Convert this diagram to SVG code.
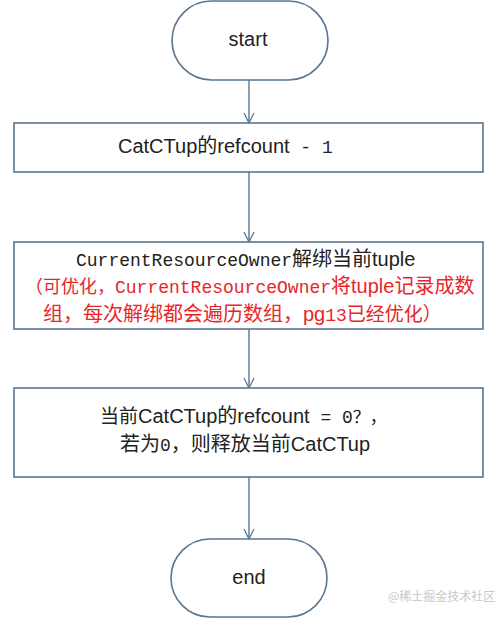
<svg xmlns="http://www.w3.org/2000/svg" width="497" height="619" viewBox="0 0 497 619">
<style>
.shape{fill:#fff;stroke:#5b7590;stroke-width:1.6}
.conn{stroke:#5b7590;stroke-width:1.4;fill:none}
.t{font-family:"Liberation Sans","Noto Sans CJK SC",sans-serif;font-size:20px;fill:#222}
.m{font-family:"Liberation Mono","Noto Sans CJK SC",monospace;font-size:18px}
.c{font-family:"Noto Sans CJK SC",sans-serif;font-size:20px}
.c18{font-size:18px}
.c19{font-size:19px}
.c17{font-size:17px}
.r{fill:#e8262a}
.wm{font-family:"Noto Sans CJK SC",sans-serif;font-size:12px;fill:#c8c8c8}
</style>
<defs>
<marker id="arr" viewBox="0 0 12 12" refX="11" refY="6" markerWidth="12" markerHeight="12" markerUnits="userSpaceOnUse" orient="auto">
<path d="M1,1 L11,6 L1,11" fill="none" stroke="#5b7590" stroke-width="1.3"/>
</marker>
</defs>
<rect width="497" height="619" fill="#fff"/>
<g id="connectors">
<line class="conn" x1="249" y1="80" x2="249" y2="123" marker-end="url(#arr)"/>
<line class="conn" x1="249" y1="172" x2="249" y2="242" marker-end="url(#arr)"/>
<line class="conn" x1="249" y1="329" x2="249" y2="388" marker-end="url(#arr)"/>
<line class="conn" x1="249" y1="477" x2="249" y2="539" marker-end="url(#arr)"/>
</g>
<g id="start">
<rect class="shape" x="172" y="1" width="156" height="79" rx="39.5"/>
<text class="t" x="248" y="46" text-anchor="middle">start</text>
</g>
<g id="step1">
<rect class="shape" x="14" y="123" width="469" height="49"/>
<text class="t" x="118" y="153">CatCTup<tspan class="c">的</tspan>refcount<tspan class="m"> - 1</tspan></text>
</g>
<g id="step2">
<rect class="shape" x="14" y="242" width="469" height="87"/>
<text class="t" x="76" y="266"><tspan class="m">CurrentResourceOwner</tspan><tspan class="c">解绑当前</tspan>tuple</text>
<text class="t r" x="25" y="293"><tspan class="c c18">（可优化，</tspan><tspan class="m">CurrentResourceOwner</tspan><tspan class="c">将</tspan>tuple<tspan class="c">记录成数</tspan></text>
<text class="t r" x="43" y="321"><tspan class="c">组，每次解绑都会遍历数组，</tspan>pg<tspan class="m">13</tspan><tspan class="c c19">已经优化）</tspan></text>
</g>
<g id="step3">
<rect class="shape" x="14" y="388" width="469" height="89"/>
<text class="t" x="100" y="423"><tspan class="c c19">当前</tspan>CatCTup<tspan class="c">的</tspan>refcount<tspan class="m"> = 0</tspan><tspan class="c c17">？，</tspan></text>
<text class="t" x="120" y="451"><tspan class="c">若为</tspan><tspan class="m">0</tspan><tspan class="c">，则释放当前</tspan>CatCTup</text>
</g>
<g id="end">
<rect class="shape" x="171" y="539" width="156" height="78" rx="39"/>
<text class="t" x="249" y="584" text-anchor="middle">end</text>
</g>
<text class="wm" x="388" y="601">@稀土掘金技术社区</text>
</svg>
